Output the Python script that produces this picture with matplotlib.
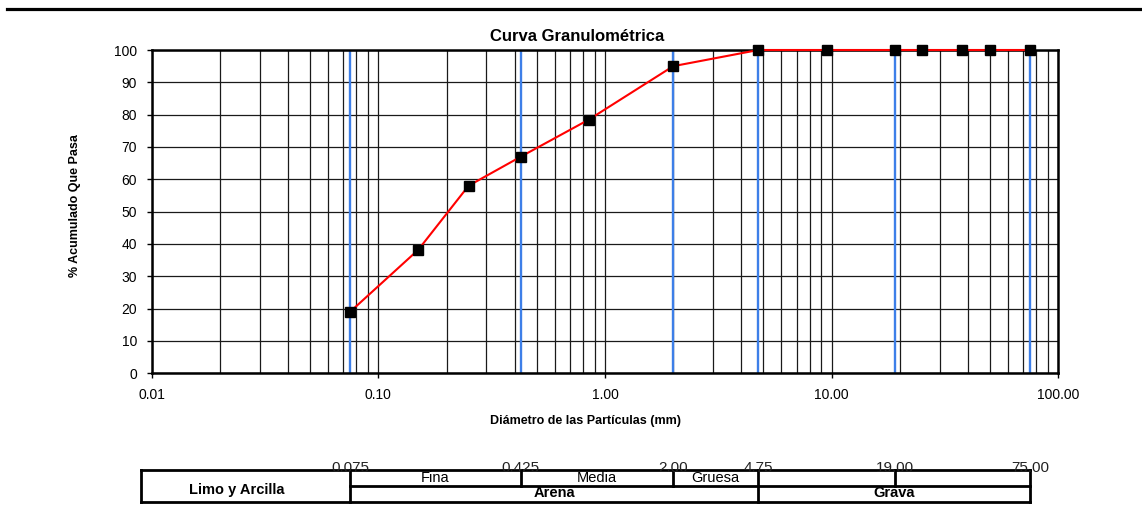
import matplotlib
matplotlib.use("Agg")
import matplotlib.pyplot as plt
from matplotlib.lines import Line2D
from matplotlib.ticker import FixedLocator, LogLocator, NullFormatter
import numpy as np

plt.rcParams['font.family'] = ['Liberation Sans', 'DejaVu Sans']

# Sieve openings (mm) and cumulative percentage passing
sieve_mm = [75, 50, 37.5, 25, 19, 9.5, 4.75, 2.0, 0.85, 0.425, 0.25, 0.15, 0.075]
passing_pct = [100, 100, 100, 100, 100, 100, 100, 95, 78.5, 67, 58, 38.2, 19]

# Size limits between soil classes (mm)
limits_mm = [0.075, 0.425, 2.0, 4.75, 19.0, 75.0]
limit_labels = ["0.075", "0.425", "2.00", "4.75", "19.00", "75.00"]

x_ticks = [0.01, 0.1, 1, 10, 100]
x_tick_labels = ["0.01", "0.10", "1.00", "10.00", "100.00"]
y_ticks = list(range(0, 101, 10))

W, H = 1142, 512
fig = plt.figure(figsize=(W / 100, H / 100), dpi=100)

# Heavy rule across the top of the sheet
fig.add_artist(Line2D([7 / W, 1.0], [1 - 9 / H, 1 - 9 / H], transform=fig.transFigure,
                      color='black', lw=2.3))

left, right = 151.7 / W, 1058.3 / W
ax = fig.add_axes([left, 1 - 373.3 / H, right - left, (373.3 - 50) / H])
ax.set_xscale('log')
ax.set_xlim(x_ticks[0], x_ticks[-1])
ax.set_ylim(0, 100)

ax.xaxis.set_major_locator(FixedLocator(x_ticks))
ax.set_xticklabels(x_tick_labels)
ax.xaxis.set_minor_locator(LogLocator(base=10, subs=np.arange(2, 10)))
ax.xaxis.set_minor_formatter(NullFormatter())
ax.set_yticks(y_ticks)

ax.tick_params(axis='both', which='major', labelsize=10, length=3.5, width=1.0,
               direction='out', colors='black')
ax.tick_params(axis='x', which='major', pad=7)
ax.tick_params(axis='y', which='major', pad=7)
ax.tick_params(which='minor', length=0)

ax.grid(True, which='both', axis='x', color='#1a1a1a', lw=0.9, zorder=1)
ax.grid(True, which='major', axis='y', color='#1a1a1a', lw=0.9, zorder=1)
ax.set_axisbelow(True)

for s in ax.spines.values():
    s.set_linewidth(1.8)
    s.set_color('black')

# Class boundaries
for b in limits_mm:
    ax.axvline(b, color='#3d7fe8', lw=1.7, zorder=2)

ax.plot(sieve_mm, passing_pct, color='red', lw=1.5, marker='s', ms=7.2,
        mfc='black', mec='black', zorder=4, clip_on=False)

fig.text(577 / W, 1 - 41 / H, "Curva Granulométrica", ha='center', va='baseline',
         fontsize=12, fontweight='bold')
fig.text(75 / W, 1 - 206 / H, "% Acumulado Que Pasa", ha='center', va='center',
         rotation=90, fontsize=9, fontweight='bold')
fig.text(586 / W, 1 - 421 / H, "Diámetro de las Partículas (mm)", ha='center',
         va='center', fontsize=9, fontweight='bold')

# Soil classification strip aligned with the size axis
tab = fig.add_axes([left, 1 - 502.3 / H, right - left, (502.3 - 470) / H])
tab.set_xscale('log')
tab.set_xlim(x_ticks[0], x_ticks[-1])
tab.set_ylim(0, 2)
tab.axis('off')

x0 = 0.0090
lk = dict(color='black', lw=2.0, clip_on=False, solid_capstyle='projecting')
tab.plot([x0, limits_mm[-1]], [0, 0], **lk)
tab.plot([x0, limits_mm[-1]], [2, 2], **lk)
tab.plot([limits_mm[0], limits_mm[-1]], [1, 1], **lk)
tab.plot([x0, x0], [0, 2], **lk)
for b in (limits_mm[0], limits_mm[3], limits_mm[5]):
    tab.plot([b, b], [0, 2], **lk)
for b in (limits_mm[1], limits_mm[2], limits_mm[4]):
    tab.plot([b, b], [1, 2], **lk)

for b, lab in zip(limits_mm, limit_labels):
    tab.text(b, 2.15, lab, ha='center', va='center', fontsize=11, color='#222222')

def gmid(a, b):
    return np.sqrt(a * b)

sub = [("Fina", limits_mm[0], limits_mm[1]),
       ("Media", limits_mm[1], limits_mm[2]),
       ("Gruesa", limits_mm[2], limits_mm[3])]
for lab, a, b in sub:
    tab.text(gmid(a, b), 1.5, lab, ha='center', va='center', fontsize=10.5)

tab.text(gmid(x0, limits_mm[0]) * 0.91, 0.75, "Limo y Arcilla", ha='center',
         va='center', fontsize=10.5, fontweight='bold')
tab.text(gmid(limits_mm[0], limits_mm[3]), 0.6, "Arena", ha='center', va='center',
         fontsize=10.5, fontweight='bold')
tab.text(gmid(limits_mm[3], limits_mm[5]), 0.6, "Grava", ha='center', va='center',
         fontsize=10.5, fontweight='bold')

fig.savefig("out.png", dpi=100)
